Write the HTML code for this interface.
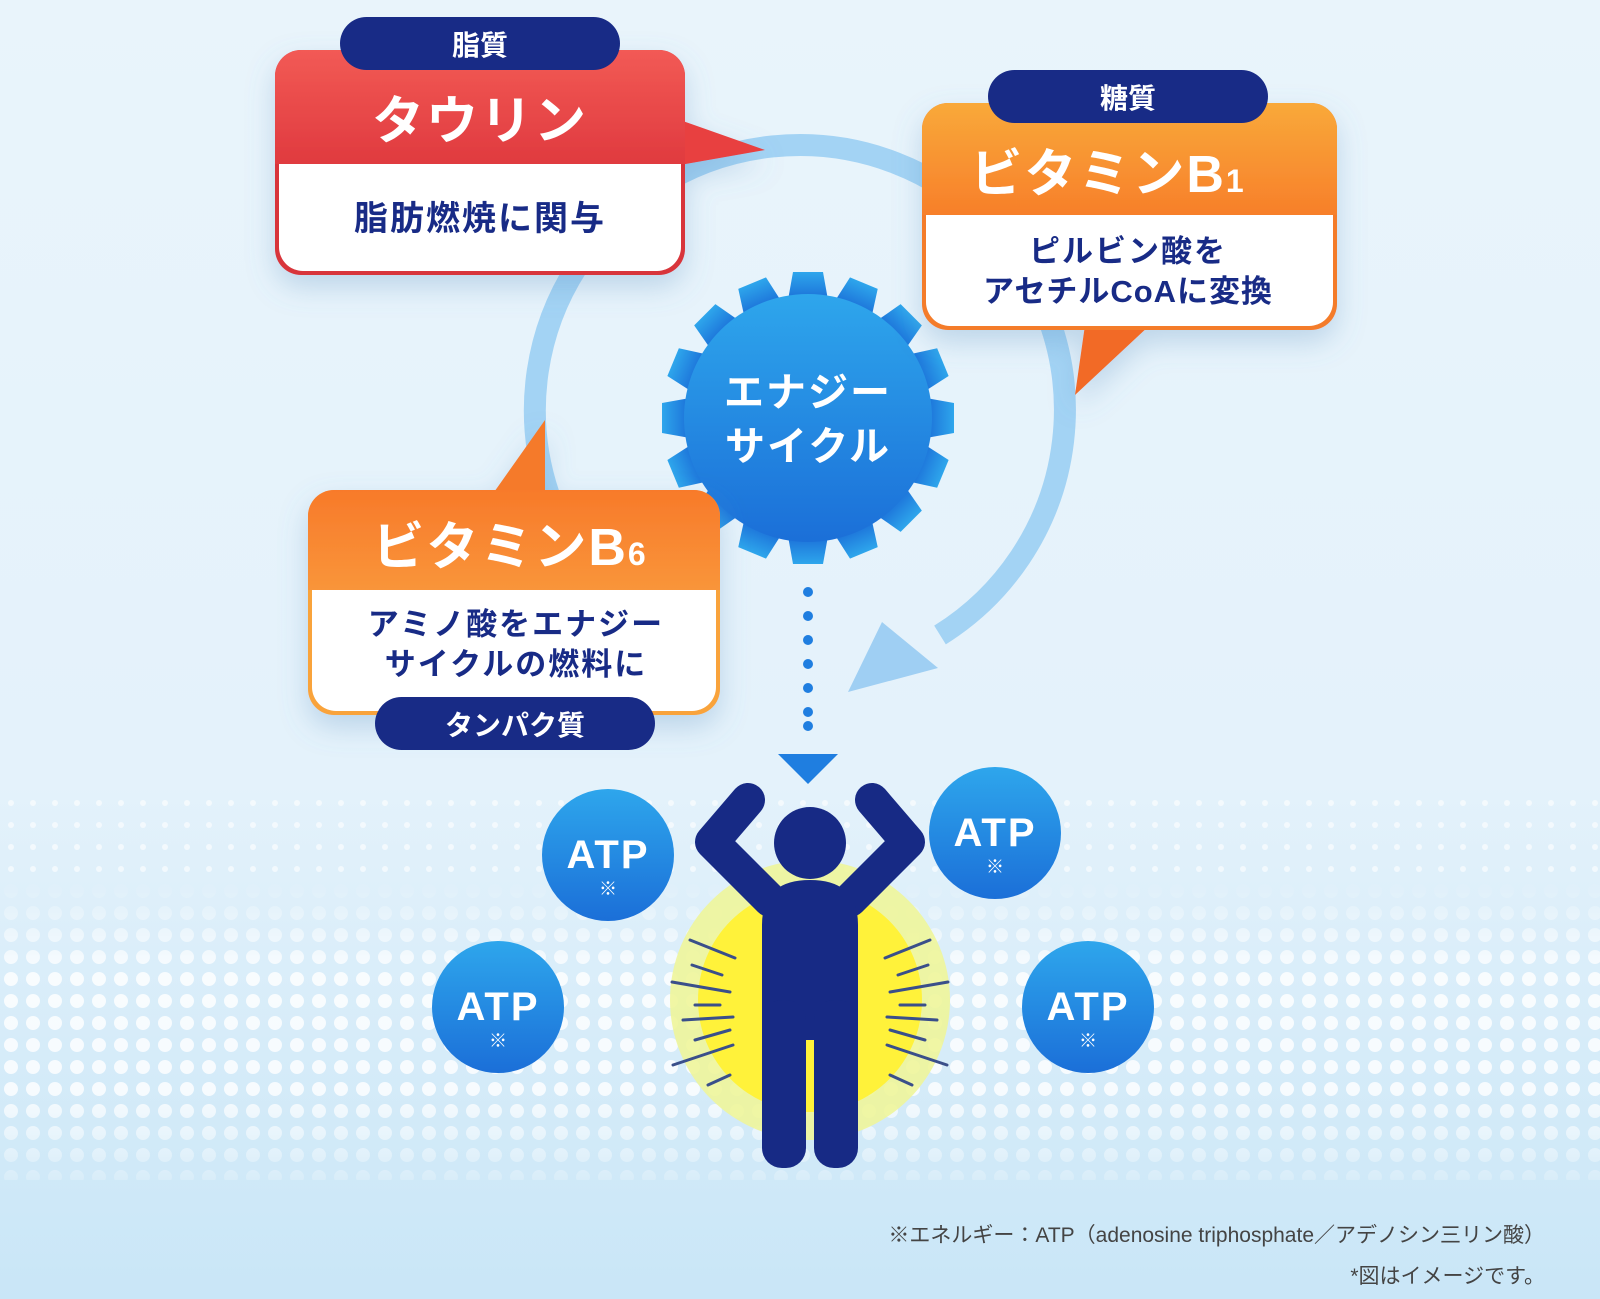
<!DOCTYPE html>
<html><head><meta charset="utf-8"><style>
html,body{margin:0;padding:0;width:1600px;height:1299px;overflow:hidden}
svg{display:block}
text{font-family:"Liberation Sans","Noto Sans CJK JP",sans-serif;font-weight:bold}
</style></head><body>
<svg width="1600" height="1299" viewBox="0 0 1600 1299" xmlns="http://www.w3.org/2000/svg">
<defs>
<linearGradient id="bg" x1="0" y1="0" x2="0" y2="1"><stop offset="0" stop-color="#e9f4fb"/><stop offset="0.6" stop-color="#e4f2fb"/><stop offset="1" stop-color="#c9e6f7"/></linearGradient>
<pattern id="dots" width="22" height="22" patternUnits="userSpaceOnUse"><circle cx="11" cy="11" r="7" fill="#ffffff"/></pattern>
<pattern id="dots2" width="22" height="22" patternUnits="userSpaceOnUse"><circle cx="11" cy="11" r="3" fill="#ffffff"/></pattern>
<linearGradient id="fade" x1="0" y1="0" x2="0" y2="1"><stop offset="0" stop-color="#fff" stop-opacity="0"/><stop offset="0.3" stop-color="#fff" stop-opacity="0.8"/><stop offset="0.7" stop-color="#fff" stop-opacity="0.8"/><stop offset="1" stop-color="#fff" stop-opacity="0.2"/></linearGradient>
<mask id="m"><rect x="0" y="880" width="1600" height="300" fill="url(#fade)"/></mask>
<linearGradient id="red" x1="0" y1="0" x2="0" y2="1"><stop offset="0" stop-color="#f25a55"/><stop offset="1" stop-color="#e03a3f"/></linearGradient>
<linearGradient id="org" x1="0" y1="0" x2="0" y2="1"><stop offset="0" stop-color="#f9a93a"/><stop offset="1" stop-color="#f77f2a"/></linearGradient>
<linearGradient id="org2" x1="0" y1="0" x2="0" y2="1"><stop offset="0" stop-color="#f87a2a"/><stop offset="1" stop-color="#f9953a"/></linearGradient>
<linearGradient id="blu" x1="0" y1="0" x2="0" y2="1"><stop offset="0" stop-color="#2ea6ec"/><stop offset="1" stop-color="#1b6fd8"/></linearGradient>
<filter id="sh" x="-20%" y="-20%" width="140%" height="150%"><feDropShadow dx="0" dy="12" stdDeviation="14" flood-color="#5a8fc0" flood-opacity="0.3"/></filter>
</defs>
<rect width="1600" height="1299" fill="url(#bg)"/>
<rect x="0" y="790" width="1600" height="90" fill="url(#dots2)" opacity="0.6"/>
<rect x="0" y="880" width="1600" height="300" fill="url(#dots)" mask="url(#m)"/>

<!-- cycle arrow -->
<path d="M 709 659 A 265 265 0 1 1 940 635" fill="none" stroke="#a3d3f4" stroke-width="22"/>
<polygon points="848,692 882,622 938,668" fill="#9fcff3"/>

<!-- gear -->
<g transform="translate(808,418)">
<g fill="url(#blu)">
<g id="t"><path d="M -20 -118 L -15 -146 H 15 L 20 -118 Z"/></g>
<use href="#t" transform="rotate(22.5)"/><use href="#t" transform="rotate(45)"/><use href="#t" transform="rotate(67.5)"/><use href="#t" transform="rotate(90)"/><use href="#t" transform="rotate(112.5)"/><use href="#t" transform="rotate(135)"/><use href="#t" transform="rotate(157.5)"/><use href="#t" transform="rotate(180)"/><use href="#t" transform="rotate(202.5)"/><use href="#t" transform="rotate(225)"/><use href="#t" transform="rotate(247.5)"/><use href="#t" transform="rotate(270)"/><use href="#t" transform="rotate(292.5)"/><use href="#t" transform="rotate(315)"/><use href="#t" transform="rotate(337.5)"/>
</g>
<circle r="124" fill="url(#blu)"/>
<text x="0" y="-12" text-anchor="middle" font-size="40" fill="#fff" letter-spacing="2">エナジー</text>
<text x="0" y="42" text-anchor="middle" font-size="40" fill="#fff" letter-spacing="2">サイクル</text>
</g>

<!-- taurine -->
<g filter="url(#sh)">
<polygon points="680,120 680,165 765,150" fill="#e8413f"/>
<rect x="275" y="50" width="410" height="225" rx="26" fill="#d8353a"/>
<path d="M 279 164 H 681 V 247 a 24 24 0 0 1 -24 24 H 303 a 24 24 0 0 1 -24 -24 Z" fill="#fff"/>
<path d="M 301 50 H 659 a 26 26 0 0 1 26 26 V 164 H 275 V 76 a 26 26 0 0 1 26 -26 Z" fill="url(#red)"/>
</g>
<rect x="340" y="17" width="280" height="53" rx="26.5" fill="#182b86"/>
<text x="480" y="55" text-anchor="middle" font-size="28" fill="#fff">脂質</text>
<text x="480" y="139" text-anchor="middle" font-size="52" fill="#fff" letter-spacing="2">タウリン</text>
<text x="480" y="230" text-anchor="middle" font-size="34" fill="#182b86" letter-spacing="2">脂肪燃焼に関与</text>

<!-- B1 -->
<g filter="url(#sh)">
<polygon points="1085,325 1150,325 1075,395" fill="#f26a25"/>
<rect x="922" y="103" width="415" height="227" rx="26" fill="#f47c2a"/>
<path d="M 926 215 H 1333 V 302 a 24 24 0 0 1 -24 24 H 950 a 24 24 0 0 1 -24 -24 Z" fill="#fff"/>
<path d="M 948 103 H 1311 a 26 26 0 0 1 26 26 V 215 H 922 V 129 a 26 26 0 0 1 26 -26 Z" fill="url(#org)"/>
</g>
<rect x="988" y="70" width="280" height="53" rx="26.5" fill="#182b86"/>
<text x="1128" y="108" text-anchor="middle" font-size="28" fill="#fff">糖質</text>
<text x="1108" y="192" text-anchor="middle" font-size="52" fill="#fff" letter-spacing="2">ビタミンB<tspan font-size="32">1</tspan></text>
<text x="1128" y="262" text-anchor="middle" font-size="31" fill="#182b86" letter-spacing="2">ピルビン酸を</text>
<text x="1128" y="302" text-anchor="middle" font-size="31" fill="#182b86" letter-spacing="1">アセチルCoAに変換</text>

<!-- B6 -->
<g filter="url(#sh)">
<polygon points="492,495 545,495 545,420" fill="#f57a2a"/>
<rect x="308" y="490" width="412" height="225" rx="26" fill="#f9a33a"/>
<path d="M 312 590 H 716 V 687 a 24 24 0 0 1 -24 24 H 336 a 24 24 0 0 1 -24 -24 Z" fill="#fff"/>
<path d="M 334 490 H 694 a 26 26 0 0 1 26 26 V 590 H 308 V 516 a 26 26 0 0 1 26 -26 Z" fill="url(#org2)"/>
</g>
<text x="510" y="565" text-anchor="middle" font-size="52" fill="#fff" letter-spacing="2">ビタミンB<tspan font-size="32">6</tspan></text>
<text x="516" y="635" text-anchor="middle" font-size="31" fill="#182b86" letter-spacing="2">アミノ酸をエナジー</text>
<text x="516" y="675" text-anchor="middle" font-size="31" fill="#182b86" letter-spacing="2">サイクルの燃料に</text>
<rect x="375" y="697" width="280" height="53" rx="26.5" fill="#182b86"/>
<text x="515" y="735" text-anchor="middle" font-size="28" fill="#fff">タンパク質</text>

<!-- dotted line -->
<g fill="#1f7ee0">
<circle cx="808" cy="592" r="5"/><circle cx="808" cy="616" r="5"/><circle cx="808" cy="640" r="5"/><circle cx="808" cy="664" r="5"/><circle cx="808" cy="688" r="5"/><circle cx="808" cy="712" r="5"/><circle cx="808" cy="726" r="5"/>
</g>
<polygon points="778,754 838,754 808,784" fill="#1f7ee0"/>

<!-- person -->
<circle cx="810" cy="1000" r="140" fill="#eef59a" opacity="0.9"/>
<circle cx="810" cy="1000" r="112" fill="#fff23a"/>
<g stroke="#3a4f8a" stroke-width="3" stroke-linecap="round">
<line x1="690" y1="940" x2="735" y2="958"/><line x1="692" y1="965" x2="722" y2="975"/><line x1="672" y1="982" x2="730" y2="992"/><line x1="695" y1="1005" x2="720" y2="1005"/><line x1="683" y1="1020" x2="733" y2="1017"/><line x1="695" y1="1040" x2="730" y2="1030"/><line x1="673" y1="1065" x2="733" y2="1045"/><line x1="708" y1="1085" x2="730" y2="1075"/>
<line x1="930" y1="940" x2="885" y2="958"/><line x1="928" y1="965" x2="898" y2="975"/><line x1="948" y1="982" x2="890" y2="992"/><line x1="925" y1="1005" x2="900" y2="1005"/><line x1="937" y1="1020" x2="887" y2="1017"/><line x1="925" y1="1040" x2="890" y2="1030"/><line x1="947" y1="1065" x2="887" y2="1045"/><line x1="912" y1="1085" x2="890" y2="1075"/>
</g>
<g fill="#172a85">
<circle cx="810" cy="843" r="36"/>
<path d="M 748 800 L 712 842 L 770 900" stroke="#172a85" stroke-width="34" stroke-linecap="round" stroke-linejoin="round" fill="none"/>
<path d="M 872 800 L 908 842 L 850 900" stroke="#172a85" stroke-width="34" stroke-linecap="round" stroke-linejoin="round" fill="none"/>
<path d="M 762 925 Q 762 880 810 880 Q 858 880 858 925 V 1040 H 762 Z"/>
<rect x="762" y="1000" width="44" height="168" rx="20"/>
<rect x="814" y="1000" width="44" height="168" rx="20"/>
</g>

<!-- ATP -->
<g>
<circle cx="608" cy="855" r="66" fill="url(#blu)"/>
<text x="608" y="868" text-anchor="middle" font-size="40" fill="#fff" letter-spacing="2">ATP</text><text x="608" y="895" text-anchor="middle" font-size="18" fill="#fff">※</text>
<circle cx="995" cy="833" r="66" fill="url(#blu)"/>
<text x="995" y="846" text-anchor="middle" font-size="40" fill="#fff" letter-spacing="2">ATP</text><text x="995" y="873" text-anchor="middle" font-size="18" fill="#fff">※</text>
<circle cx="498" cy="1007" r="66" fill="url(#blu)"/>
<text x="498" y="1020" text-anchor="middle" font-size="40" fill="#fff" letter-spacing="2">ATP</text><text x="498" y="1047" text-anchor="middle" font-size="18" fill="#fff">※</text>
<circle cx="1088" cy="1007" r="66" fill="url(#blu)"/>
<text x="1088" y="1020" text-anchor="middle" font-size="40" fill="#fff" letter-spacing="2">ATP</text><text x="1088" y="1047" text-anchor="middle" font-size="18" fill="#fff">※</text>
</g>

<text x="1545" y="1242" text-anchor="end" font-size="21" fill="#444" style="font-weight:normal">※エネルギー：ATP（adenosine triphosphate／アデノシン三リン酸）</text>
<text x="1545" y="1283" text-anchor="end" font-size="21" fill="#444" style="font-weight:normal">*図はイメージです。</text>
</svg>
</body></html>
